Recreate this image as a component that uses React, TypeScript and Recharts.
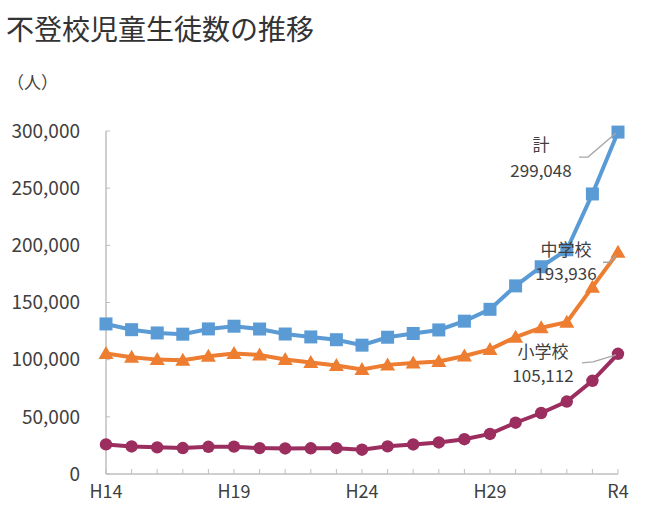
import React from 'react';
import { LineChart, Line, XAxis, YAxis, LabelList } from 'recharts';

const years = ['H14','H15','H16','H17','H18','H19','H20','H21','H22','H23','H24','H25','H26','H27','H28','H29','H30','R1','R2','R3','R4'];
const shownYearLabels = ['H14','H19','H24','H29','R4'];
const elementary = [25869,24077,23318,22709,23825,23927,22652,22327,22463,22622,21243,24175,25864,27583,30448,35032,44841,53350,63350,81498,105112];
const juniorHigh = [105383,102149,100040,99578,103069,105328,104153,100105,97428,94836,91446,95442,97033,98408,103235,108999,119687,127922,132777,163442,193936];
const total = [131252,126226,123358,122287,126894,129255,126805,122432,119891,117458,112689,119617,122897,125991,133683,144031,164528,181272,196127,244940,299048];
const yTicks = [0,50000,100000,150000,200000,250000,300000];
const seriesNames = { total: '計', juniorHigh: '中学校', elementary: '小学校' };

const data = years.map((y, i) => ({ year: y, elementary: elementary[i], juniorHigh: juniorHigh[i], total: total[i] }));

const FONT = '"Noto Sans CJK JP", "Noto Sans", sans-serif';
const BLUE = '#5B9BD5';
const ORANGE = '#ED7D31';
const PURPLE = '#9B2D5F';
const TEXT = '#404040';
const AXIS = '#BFBFBF';
const fmt = (v: number) => v.toLocaleString('en-US');

const SquareDot = (p: any) => (
  <rect key={`sq-${p.index}`} x={p.cx - 6.5} y={p.cy - 6.5} width={13} height={13} fill={BLUE} />
);
const TriangleDot = (p: any) => (
  <polygon key={`tr-${p.index}`} points={`${p.cx},${p.cy - 7.5} ${p.cx - 7.5},${p.cy + 5.5} ${p.cx + 7.5},${p.cy + 5.5}`} fill={ORANGE} />
);
const CircleDot = (p: any) => (
  <circle key={`ci-${p.index}`} cx={p.cx} cy={p.cy} r={6.2} fill={PURPLE} />
);

type LabelLayout = { dx: number; dy1: number; dy2: number; line: [number, number][] };

const makeEndLabel = (title: string, layout: LabelLayout) => (props: any) => {
  const { x, y, index, value } = props;
  if (index !== years.length - 1) return null;
  const pts = layout.line.map(([a, b]) => `${x + a},${y + b}`).join(' ');
  return (
    <g>
      <polyline points={pts} fill="none" stroke="#A6A6A6" strokeWidth={1.3} />
      <text x={x + layout.dx} y={y + layout.dy1} textAnchor="middle" fontSize={17} fill={TEXT} fontFamily={FONT}>{title}</text>
      <text x={x + layout.dx} y={y + layout.dy2} textAnchor="middle" fontSize={17} fill={TEXT} fontFamily={FONT}>{fmt(value)}</text>
    </g>
  );
};

const XTick = (props: any) => {
  const { x, y, payload } = props;
  if (!shownYearLabels.includes(payload.value)) return null;
  return (
    <text x={x} y={y} dy="0.71em" textAnchor="middle" fontSize={18} fill={TEXT} fontFamily={FONT}>{payload.value}</text>
  );
};

export default function App() {
  return (
    <div style={{ position: 'absolute', left: 0, top: 0, width: 650, height: 521, background: '#fff' }}>
      <LineChart width={650} height={521} data={data} margin={{ top: 131, right: 32, bottom: 17, left: 0 }}>
        <XAxis
          dataKey="year"
          interval={0}
          tick={<XTick />}
          tickSize={-5}
          tickMargin={16}
          height={30}
          stroke={AXIS}
          tickLine={{ stroke: AXIS }}
          axisLine={{ stroke: AXIS, strokeWidth: 1.5 }}
        />
        <YAxis
          domain={[0, 300000]}
          ticks={yTicks}
          width={106}
          tickSize={-4}
          tickMargin={30}
          tickFormatter={fmt}
          tick={{ fontSize: 19, fill: TEXT, fontFamily: FONT }}
          stroke={AXIS}
          tickLine={{ stroke: AXIS }}
          axisLine={{ stroke: AXIS, strokeWidth: 1.5 }}
        />
        <Line dataKey="elementary" stroke={PURPLE} strokeWidth={4} dot={CircleDot} activeDot={false} isAnimationActive={false}>
          <LabelList dataKey="elementary" content={makeEndLabel(seriesNames.elementary, { dx: -75, dy1: 4, dy2: 28, line: [[-36, 9], [-25, 8], [-2, 1]] })} />
        </Line>
        <Line dataKey="juniorHigh" stroke={ORANGE} strokeWidth={4} dot={TriangleDot} activeDot={false} isAnimationActive={false}>
          <LabelList dataKey="juniorHigh" content={makeEndLabel(seriesNames.juniorHigh, { dx: -52, dy1: 4, dy2: 28, line: [[-15, 10], [-8, 10], [-2, 3]] })} />
        </Line>
        <Line dataKey="total" stroke={BLUE} strokeWidth={4} dot={SquareDot} activeDot={false} isAnimationActive={false}>
          <LabelList dataKey="total" content={makeEndLabel(seriesNames.total, { dx: -77, dy1: 19, dy2: 45, line: [[-39, 25], [-30, 25], [-2, 1]] })} />
        </Line>
      </LineChart>
      <svg width={650} height={521} style={{ position: 'absolute', left: 0, top: 0, pointerEvents: 'none' }}>
        <text x={6} y={40} fontSize={28} fill="#333333" fontFamily={FONT}>不登校児童生徒数の推移</text>
        <text x={7} y={89} fontSize={17} fill={TEXT} fontFamily={FONT}>（人）</text>
      </svg>
    </div>
  );
}
